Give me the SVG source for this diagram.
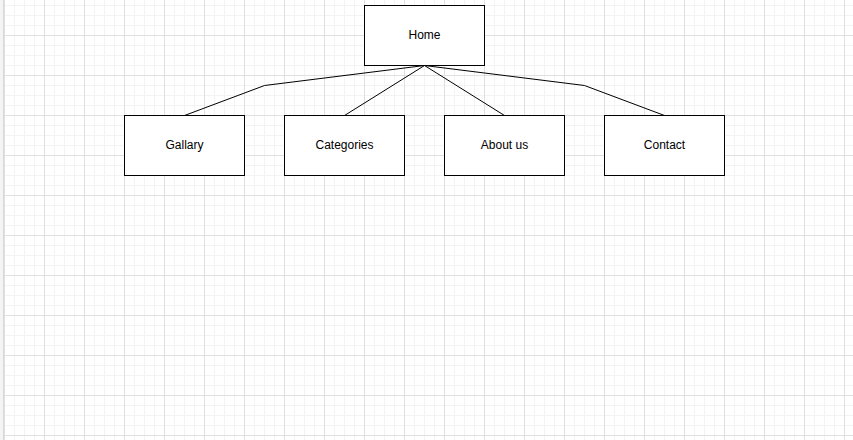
<svg xmlns="http://www.w3.org/2000/svg" width="853" height="440" viewBox="0 0 853 440">
<defs>
<pattern id="minor" x="4" y="-5" width="10" height="10" patternUnits="userSpaceOnUse">
<path d="M0.5 0V10M0 0.5H10" stroke="#f3f3f3" stroke-width="1" fill="none"/>
</pattern>
<pattern id="major" x="4" y="-5" width="40" height="40" patternUnits="userSpaceOnUse">
<path d="M0.5 0V40M0 0.5H40" stroke="#e0e0e0" stroke-width="1" fill="none"/>
</pattern>
</defs>
<style>
.node rect{fill:#ffffff;stroke:#000000;stroke-width:1}
.node text{font-family:"Liberation Sans",Arial,sans-serif;font-size:12px;fill:#000000;text-anchor:middle}
.edge{fill:none;stroke:#000000;stroke-width:1}
</style>
<rect width="853" height="440" fill="#ffffff"/>
<rect x="4" y="0" width="849" height="440" fill="url(#minor)"/>
<rect x="4" y="0" width="849" height="440" fill="url(#major)"/>
<rect x="0" y="0" width="4" height="440" fill="#f4f4f4"/>
<rect x="3" y="0" width="1" height="440" fill="#d8d8d8"/>
<g id="connectors">
<polyline class="edge" points="424.5,65.5 264.5,85.5 184.5,115.5"/>
<polyline class="edge" points="424.5,65.5 344.5,115.5"/>
<polyline class="edge" points="424.5,65.5 504.5,115.5"/>
<polyline class="edge" points="424.5,65.5 584.5,85.5 664.5,115.5"/>
</g>
<g id="home" class="node"><rect x="364.5" y="5.5" width="120" height="60"/><text x="424.5" y="39">Home</text></g>
<g id="gallary" class="node"><rect x="124.5" y="115.5" width="120" height="60"/><text x="184.5" y="149">Gallary</text></g>
<g id="categories" class="node"><rect x="284.5" y="115.5" width="120" height="60"/><text x="344.5" y="149">Categories</text></g>
<g id="about" class="node"><rect x="444.5" y="115.5" width="120" height="60"/><text x="504.5" y="149">About us</text></g>
<g id="contact" class="node"><rect x="604.5" y="115.5" width="120" height="60"/><text x="664.5" y="149">Contact</text></g>
</svg>
